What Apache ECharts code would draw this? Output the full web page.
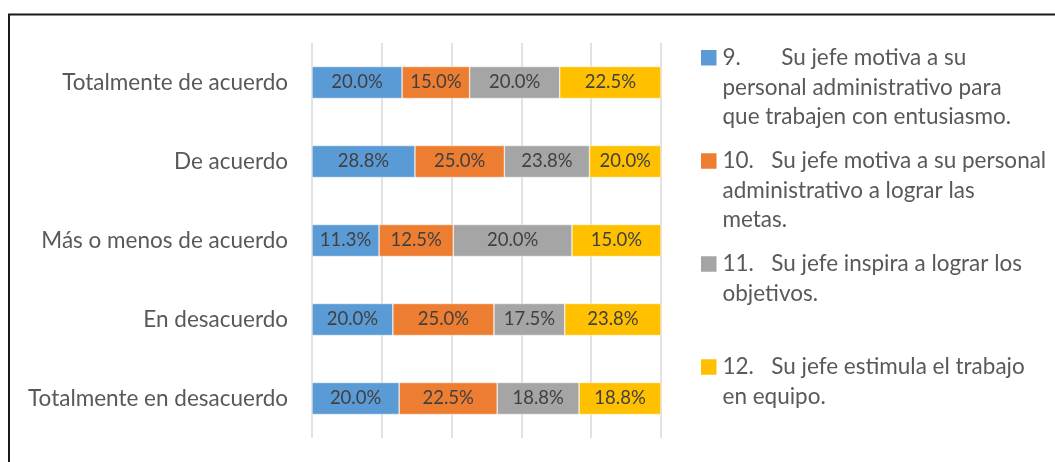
<!DOCTYPE html>
<html>
<head>
<meta charset="utf-8">
<script src="https://cdn.jsdelivr.net/npm/echarts@6/dist/echarts.min.js"></script>
<style>
  html, body { margin: 0; padding: 0; background: #fff; }
  #chart { width: 1055px; height: 462px; }
</style>
</head>
<body>
<div id="chart"></div>
<script>
// categories, top to bottom
const categories = [
  'Totalmente de acuerdo',
  'De acuerdo',
  'Más o menos de acuerdo',
  'En desacuerdo',
  'Totalmente en desacuerdo'
]

// legend texts (one per question)
const seriesNames = [
  '9.       Su jefe motiva a su\npersonal administrativo para\nque trabajen con entusiasmo.',
  '10.   Su jefe motiva a su personal\nadministrativo a lograr las\nmetas.',
  '11.   Su jefe inspira a lograr los\nobjetivos.',
  '12.   Su jefe estimula el trabajo\nen equipo.'
]

// raw percentages shown on the bars
const q9 = [20.0, 28.8, 11.3, 20.0, 20.0]
const q10 = [15.0, 25.0, 12.5, 25.0, 22.5]
const q11 = [20.0, 23.8, 20.0, 17.5, 18.8]
const q12 = [22.5, 20.0, 15.0, 23.8, 18.8]

const colors = ['#5B9BD5', '#ED7D31', '#A5A5A5', '#FFC000']
const allSeries = [q9, q10, q11, q12]

// 100% stacked: share of each row total
const totals = categories.map((c, i) => allSeries.reduce((s, arr) => s + arr[i], 0))

const font = 'Lato'
const lineH = 29.5
const iconCenters = [57.8, 161, 264, 367]

function buildSeries() {
  return allSeries.map((arr, k) => ({
    name: seriesNames[k],
    type: 'bar',
    stack: 'total',
    barWidth: 32,
    itemStyle: { color: colors[k], borderColor: '#fff', borderWidth: 0.5 },
    label: {
      show: true,
      position: 'inside',
      color: '#404040',
      fontFamily: font,
      fontSize: 18.5,
      formatter: p => p.data.raw.toFixed(1) + '%'
    },
    data: arr.map((v, i) => ({ value: v / totals[i] * 100, raw: v })),
    animation: false
  }))
}

// legend text is centred on the icon, so pad with blank lines above
// to put the first line next to the icon
function buildLegends() {
  return seriesNames.map((name, k) => {
    const n = name.split('\n').length
    const pad = Array(n - 1).fill(' ').join('\n')
    return {
      data: [name],
      orient: 'vertical',
      left: 699,
      top: iconCenters[k] - (2 * n - 1) * lineH / 2,
      padding: 0,
      icon: 'rect',
      itemWidth: 17.5,
      itemHeight: 17.5,
      itemGap: 0,
      selectedMode: false,
      formatter: t => pad + '\n' + t,
      textStyle: {
        color: '#595959',
        fontFamily: font,
        fontSize: 22.5,
        lineHeight: lineH
      }
    }
  })
}

const chart = echarts.init(document.getElementById('chart'))
chart.setOption({
  color: colors,
  animation: false,
  grid: {
    left: 312,
    right: 394,
    top: 43,
    bottom: 24,
    containLabel: false
  },
  legend: buildLegends(),
  xAxis: {
    type: 'value',
    min: 0,
    max: 100,
    interval: 20,
    axisLabel: { show: false },
    axisLine: { show: false },
    axisTick: { show: false },
    splitLine: { lineStyle: { color: '#D9D9D9', width: 1.5 } }
  },
  yAxis: {
    type: 'category',
    inverse: true,
    data: categories,
    axisLine: { show: false },
    axisTick: { show: false },
    axisLabel: {
      color: '#595959',
      fontFamily: font,
      fontSize: 22.5,
      margin: 24
    }
  },
  graphic: [{
    type: 'rect',
    shape: { x: 9, y: 14.5, width: 1200, height: 600 },
    style: { fill: null, stroke: '#1a1a1a', lineWidth: 2 },
    silent: true
  }],
  series: buildSeries()
})
</script>
</body>
</html>
